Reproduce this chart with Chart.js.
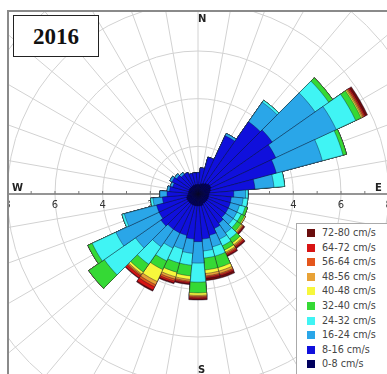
<!DOCTYPE html>
<html>
<head>
<meta charset="utf-8">
<script src="https://cdn.jsdelivr.net/npm/chart.js@4.4.1/dist/chart.umd.min.js"></script>
<style>
  html, body { margin: 0; padding: 0; background: #fff; }
  body { width: 387px; height: 374px; position: relative; overflow: hidden; font-family: "DejaVu Sans", sans-serif; }
  #frame { position: absolute; left: 7px; top: 10px; width: 400px; height: 380px;
           border-left: 2px solid #8a8a8a; border-top: 2px solid #8a8a8a; overflow: hidden; }
  #rose { position: absolute; left: -97px; top: -104px; }
  #year { position: absolute; left: 13px; top: 15px; width: 84px; height: 40px; border: 1.5px solid #222;
          background: #fff; font: bold 23px "Liberation Serif", serif; color: #111;
          text-align: center; line-height: 41px; }
  #legend { position: absolute; left: 296px; top: 223px; width: 100px; height: 160px;
            border: 1px solid #aaa; background: #fff; }
  #legend .row { position: absolute; left: 10px; height: 14px; line-height: 14px;
                 font-size: 9.6px; color: #444; white-space: nowrap; }
  #legend .sw { display: inline-block; width: 8px; height: 8px; margin-right: 7px; vertical-align: -1px; }
</style>
</head>
<body>
<div id="frame"><canvas id="rose" width="572" height="572"></canvas></div>
<div id="year">2016</div>
<div id="legend"></div>
<script>
// direction bins (degrees, flow toward), 10 degree sectors
const directions = [0, 10, 20, 30, 40, 50, 60, 70, 80, 90, 100, 110, 120, 130, 140, 150, 160, 170,
                    180, 190, 200, 210, 220, 230, 240, 250, 260, 270, 280, 290, 300, 310, 320, 330, 340, 350];

// frequency (%) per speed class and direction
const speed0_8   = [0.4, 0.4, 0.45, 0.5, 0.55, 0.6, 0.6, 0.55, 0.5, 0.45, 0.45, 0.45, 0.45, 0.45, 0.45, 0.45, 0.5, 0.5,
                    0.5, 0.5, 0.5, 0.5, 0.5, 0.5, 0.5, 0.5, 0.45, 0.4, 0.4, 0.4, 0.4, 0.4, 0.4, 0.4, 0.4, 0.4];
const speed8_16  = [0.5, 0.7, 1.15, 2.2, 3.15, 3.2, 3.0, 2.85, 1.9, 1.05, 0.95, 0.95, 0.95, 0.95, 1.05, 1.15, 1.3, 1.4,
                    1.5, 1.4, 1.3, 1.3, 1.3, 1.4, 1.3, 1.3, 1.05, 0.9, 0.8, 0.7, 0.8, 0.7, 0.6, 0.6, 0.5, 0.5];
const speed16_24 = [0, 0, 0, 0.1, 1.0, 2.2, 2.8, 2.0, 0.8, 0.5, 0.5, 0.4, 0.4, 0.4, 0.5, 0.5, 0.5, 0.5,
                    0.9, 0.6, 0.6, 0.7, 0.9, 1.3, 2.0, 1.4, 0.4, 0.3, 0.1, 0.1, 0.1, 0.1, 0.1, 0, 0, 0];
const speed24_32 = [0, 0, 0, 0, 0.1, 0.7, 0.9, 0.9, 0.45, 0.1, 0.2, 0.25, 0.2, 0.2, 0.3, 0.3, 0.4, 0.3,
                    0.8, 0.5, 0.6, 0.6, 0.9, 1.6, 1.1, 0.1, 0.1, 0, 0, 0, 0, 0, 0, 0, 0, 0];
const speed32_40 = [0, 0, 0, 0, 0, 0.2, 0.25, 0.15, 0, 0, 0, 0.1, 0.15, 0.2, 0.2, 0.2, 0.5, 0.5,
                    0.45, 0.45, 0.4, 0.4, 0.4, 0.8, 0.2, 0, 0, 0, 0, 0, 0, 0, 0, 0, 0, 0];
const speed40_48 = [0, 0, 0, 0, 0, 0, 0.05, 0, 0, 0, 0, 0, 0.05, 0.05, 0.1, 0.1, 0.15, 0.15,
                    0.1, 0.15, 0.2, 0.55, 0.1, 0, 0, 0, 0, 0, 0, 0, 0, 0, 0, 0, 0, 0];
const speed48_56 = [0, 0, 0, 0, 0, 0, 0.05, 0, 0, 0, 0, 0, 0, 0.05, 0.05, 0.05, 0.1, 0.1,
                    0.05, 0.07, 0.1, 0.15, 0.05, 0, 0, 0, 0, 0, 0, 0, 0, 0, 0, 0, 0, 0];
const speed56_64 = [0, 0, 0, 0, 0, 0, 0.05, 0, 0, 0, 0, 0, 0, 0.03, 0.05, 0.05, 0.05, 0.05,
                    0.05, 0.05, 0.08, 0.1, 0.05, 0, 0, 0, 0, 0, 0, 0, 0, 0, 0, 0, 0, 0];
const speed64_72 = [0, 0, 0, 0, 0, 0, 0.05, 0, 0, 0, 0, 0, 0, 0.03, 0.05, 0.05, 0.05, 0.05,
                    0.05, 0.05, 0.07, 0.15, 0.1, 0, 0, 0, 0, 0, 0, 0, 0, 0, 0, 0, 0, 0];
const speed72_80 = [0, 0, 0, 0, 0, 0, 0.1, 0, 0, 0, 0, 0, 0, 0.04, 0.05, 0.05, 0.1, 0.1,
                    0.05, 0.05, 0.05, 0.05, 0.03, 0, 0, 0, 0, 0, 0, 0, 0, 0, 0, 0, 0, 0];

const classNames = ['0-8 cm/s', '8-16 cm/s', '16-24 cm/s', '24-32 cm/s', '32-40 cm/s',
                    '40-48 cm/s', '48-56 cm/s', '56-64 cm/s', '64-72 cm/s', '72-80 cm/s'];
const classColors = ['#00005e', '#1010dc', '#2aa6e8', '#40f4f4', '#35d935',
                     '#f7f73c', '#e8a236', '#e4561c', '#d81414', '#6a0d0d'];
const axisTicks = [2, 4, 6, 8, 10];

const classData = [speed0_8, speed8_16, speed16_24, speed24_32, speed32_40,
                   speed40_48, speed48_56, speed56_64, speed64_72, speed72_80];

// stack the classes: each dataset is the running total, innermost one drawn on top
let running = directions.map(() => 0);
const datasets = classData.map((vals, k) => {
    running = running.map((v, i) => v + vals[i]);
    return {
        label: classNames[k],
        data: running.slice(),
        backgroundColor: classColors[k],
        borderColor: 'rgba(10,10,40,0.55)',
        borderWidth: 0.7
    };
});

// spokes, horizontal axis and compass letters
const roseAxes = {
    id: 'roseAxes',
    beforeDatasetsDraw(chart) {
        const r = chart.scales.r;
        const ctx = chart.ctx;
        const xc = r.xCenter, yc = r.yCenter;
        ctx.save();
        ctx.strokeStyle = '#d2d2d2';
        ctx.lineWidth = 1;
        for (let i = 0; i < directions.length; i++) {
            const p = r.getPointPosition(i + 0.5, r.drawingArea);
            ctx.beginPath();
            ctx.moveTo(xc, yc);
            ctx.lineTo(p.x, p.y);
            ctx.stroke();
        }
        // horizontal axis
        ctx.strokeStyle = '#7a7a7a';
        ctx.lineWidth = 1.5;
        ctx.beginPath();
        ctx.moveTo(xc - r.drawingArea, yc);
        ctx.lineTo(xc + r.drawingArea, yc);
        ctx.stroke();
        ctx.lineWidth = 1;
        for (let v = 1; v <= r.max; v++) {
            const d = r.getDistanceFromCenterForValue(v);
            [-1, 1].forEach(s => {
                ctx.beginPath();
                ctx.moveTo(xc + s * d, yc);
                ctx.lineTo(xc + s * d, yc - 3);
                ctx.stroke();
            });
        }
        ctx.fillStyle = '#333';
        ctx.font = '10px "DejaVu Sans"';
        ctx.textAlign = 'center';
        ctx.textBaseline = 'top';
        axisTicks.forEach(v => {
            const d = r.getDistanceFromCenterForValue(v);
            ctx.fillText(String(v), xc - d, yc + 6);
            ctx.fillText(String(v), xc + d, yc + 6);
        });
        ctx.restore();
    },
    afterDatasetsDraw(chart) {
        const r = chart.scales.r;
        const ctx = chart.ctx;
        const xc = r.xCenter, yc = r.yCenter;
        ctx.save();
        ctx.fillStyle = '#222';
        ctx.font = 'bold 10px "DejaVu Sans"';
        ctx.textAlign = 'left';
        ctx.textBaseline = 'middle';
        ctx.fillText('N', xc, yc - 175);
        ctx.fillText('S', xc, yc + 176);
        ctx.fillText('W', xc - 186, yc - 6);
        ctx.fillText('E', xc + 177, yc - 6);
        ctx.restore();
    }
};

new Chart(document.getElementById('rose'), {
    type: 'polarArea',
    data: { labels: directions.map(String), datasets: datasets },
    options: {
        responsive: false,
        animation: false,
        layout: { padding: 0 },
        plugins: { legend: { display: false }, tooltip: { enabled: false } },
        scales: {
            r: {
                min: 0,
                max: 12,
                startAngle: -5,
                ticks: { display: false, stepSize: 2 },
                grid: { color: '#d2d2d2', lineWidth: 1, circular: true },
                angleLines: { display: false },
                pointLabels: { display: false }
            }
        }
    },
    plugins: [roseAxes]
});

// legend box, highest class first
const legend = document.getElementById('legend');
for (let k = classNames.length - 1; k >= 0; k--) {
    const row = document.createElement('div');
    row.className = 'row';
    row.style.top = (2 + (classNames.length - 1 - k) * 14.6) + 'px';
    row.innerHTML = '<span class="sw" style="background:' + classColors[k] + '"></span>' + classNames[k];
    legend.appendChild(row);
}
</script>
</body>
</html>
